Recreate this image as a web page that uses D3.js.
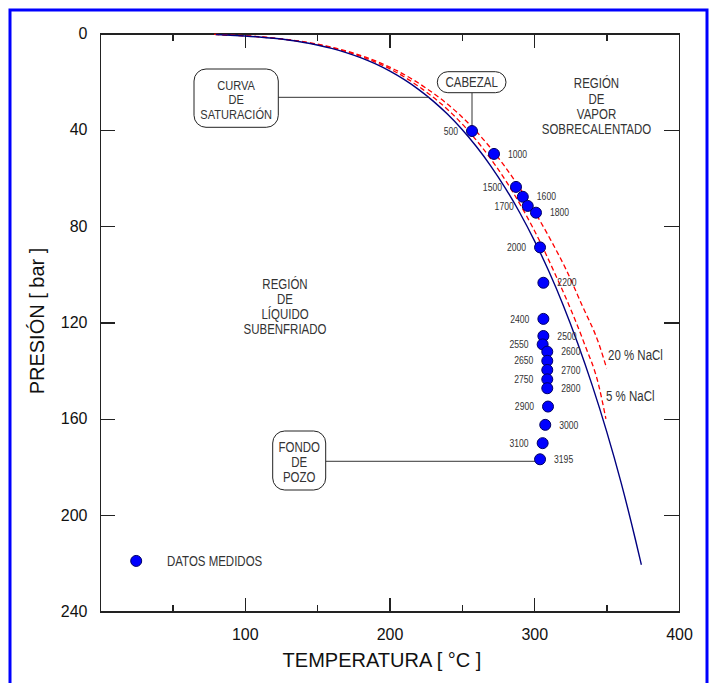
<!DOCTYPE html>
<html>
<head>
<meta charset="utf-8">
<script src="https://cdn.jsdelivr.net/npm/d3@7"></script>
<style>
  body { margin: 0; background: #fff; }
  svg { display: block; }
  .axis path, .axis line { stroke: #222; stroke-width: 1.4; shape-rendering: crispEdges; }
  .axis text { font-family: "Liberation Sans", Arial, sans-serif; font-size: 16px; fill: #111; }
  .note { font-family: "Liberation Sans", Arial, sans-serif; fill: #333; }
  .title { font-family: "Liberation Sans", Arial, sans-serif; font-size: 20px; fill: #111; }
</style>
</head>
<body>
<svg width="713" height="683"></svg>
<script>
// curva de saturacion del agua pura [°C, bar]
const satTemp = [80, 90, 100, 110, 120, 130, 140, 150, 160, 170, 180, 190, 200, 210, 220, 230, 240, 250, 260, 270, 280, 290, 300, 310, 320, 330, 340, 350, 360, 370, 374];
const satPres = [0.47, 0.70, 1.01, 1.43, 1.99, 2.70, 3.61, 4.76, 6.18, 7.92, 10.03, 12.55, 15.55, 19.08, 23.2, 27.97, 33.47, 39.76, 46.92, 55.03, 64.17, 74.42, 85.88, 98.65, 112.8, 128.6, 146.0, 165.2, 186.5, 210.4, 220.6];

// salmuera 5 % NaCl
const nacl5Temp = [79, 90.5, 101, 121, 141.5, 162, 182.5, 203, 223, 243.5, 263.5, 283.5, 303.5, 313.5, 324, 334.5, 344.5, 349.5];
const nacl5Pres = [0.4, 0.70, 1.01, 1.99, 3.61, 6.18, 10.03, 15.55, 23.2, 33.47, 46.92, 64.17, 85.88, 98.65, 112.8, 128.6, 146.0, 160];

// salmuera 20 % NaCl
const nacl20Temp = [79, 91, 102, 121.5, 142.5, 163.5, 184.5, 205.5, 226.5, 248, 269, 290, 311.5, 322.5, 333, 344.5, 350];
const nacl20Pres = [0.4, 0.70, 1.01, 1.99, 3.61, 6.18, 10.03, 15.55, 23.2, 33.47, 46.92, 64.17, 85.88, 98.65, 112.8, 128.6, 139];

// datos medidos en el pozo (profundidad en m)
const wellDepth = [500, 1000, 1500, 1600, 1700, 1800, 2000, 2200, 2400, 2500, 2550, 2600, 2650, 2700, 2750, 2800, 2900, 3000, 3100, 3195];
const wellTemp = [257.0, 272.2, 287.4, 292.1, 295.5, 301.2, 304.0, 306.3, 306.3, 306.3, 305.8, 309.0, 309.0, 309.0, 309.0, 309.0, 309.5, 307.6, 305.8, 304.0];
const wellPres = [40.5, 50.0, 63.7, 67.8, 71.6, 74.4, 88.8, 103.5, 118.5, 125.6, 129.1, 132.1, 135.9, 139.7, 143.6, 147.3, 154.9, 162.5, 170.1, 176.8];

const xMajor = [0, 100, 200, 300, 400];
const xMinor = [50, 150, 250, 350];
const xLabels = [100, 200, 300, 400];
const yTicks = [0, 40, 80, 120, 160, 200, 240];

const svg = d3.select('svg');
const NARROW = 0.82; // no hay Arial Narrow: se comprime Liberation Sans

const x = d3.scaleLinear().domain([0, 400]).range([100, 679]);
const y = d3.scaleLinear().domain([0, 240]).range([33.5, 611.5]);

// marco azul
svg.append('rect')
    .attr('x', 10).attr('y', 10)
    .attr('width', 697).attr('height', 700)
    .attr('fill', 'none')
    .attr('stroke', '#0000ff')
    .attr('stroke-width', 3);

// ejes: marcas hacia adentro
function tickAxis(axis, transform, values, size, keepDomain) {
  const g = svg.append('g')
      .attr('class', 'axis')
      .attr('transform', transform)
      .call(axis.tickValues(values).tickSize(size).tickSizeOuter(0).tickFormat(''));
  if (!keepDomain) g.select('.domain').remove();
  return g;
}
tickAxis(d3.axisTop(x), `translate(0,${y(240)})`, xMajor, 14, true);
tickAxis(d3.axisTop(x), `translate(0,${y(240)})`, xMinor, 7, false);
tickAxis(d3.axisBottom(x), `translate(0,${y(0)})`, xMajor, 14, true);
tickAxis(d3.axisBottom(x), `translate(0,${y(0)})`, xMinor, 7, false);
tickAxis(d3.axisRight(y), `translate(${x(0)},0)`, yTicks, 15, true);
tickAxis(d3.axisLeft(y), `translate(${x(400)},0)`, yTicks, 15, true);

// etiquetas de los ejes
svg.append('g')
    .attr('class', 'axis')
    .attr('transform', `translate(0,${y(240)})`)
    .call(d3.axisBottom(x).tickValues(xLabels).tickSize(0).tickPadding(17.5))
    .select('.domain').remove();

svg.append('g')
    .attr('class', 'axis')
    .attr('transform', `translate(${x(0)},0)`)
    .call(d3.axisLeft(y).tickValues(yTicks).tickSize(0).tickPadding(12.5))
    .select('.domain').remove();

svg.append('text')
    .attr('class', 'title')
    .attr('x', 382).attr('y', 667)
    .attr('text-anchor', 'middle')
    .text('TEMPERATURA [ °C ]');

svg.append('text')
    .attr('class', 'title')
    .attr('transform', 'translate(44,321) rotate(-90)')
    .attr('text-anchor', 'middle')
    .text('PRESIÓN [ bar ]');

// curvas
const line = d3.line()
    .x(d => x(d[0]))
    .y(d => y(d[1]))
    .curve(d3.curveMonotoneX);

svg.append('path')
    .datum(d3.zip(nacl20Temp, nacl20Pres))
    .attr('d', line)
    .attr('fill', 'none')
    .attr('stroke', '#ff0000')
    .attr('stroke-width', 1.3)
    .attr('stroke-dasharray', '5,3');

svg.append('path')
    .datum(d3.zip(nacl5Temp, nacl5Pres))
    .attr('d', line)
    .attr('fill', 'none')
    .attr('stroke', '#ff0000')
    .attr('stroke-width', 1.3)
    .attr('stroke-dasharray', '5,3');

svg.append('path')
    .datum(d3.zip(satTemp, satPres))
    .attr('d', line)
    .attr('fill', 'none')
    .attr('stroke', '#000080')
    .attr('stroke-width', 1.4);

// texto angosto, en varias lineas
function block(lines, px, y0, dy, size, anchor) {
  const t = svg.append('g')
      .attr('transform', `translate(${px},0) scale(${NARROW},1)`)
    .append('text')
      .attr('class', 'note')
      .attr('text-anchor', anchor || 'middle')
      .style('font-size', size + 'px');
  lines.forEach((s, i) => {
    t.append('tspan').attr('x', 0).attr('y', y0 + i * dy).text(s);
  });
}

block(['20 % NaCl'], 608, 360, 0, 14, 'start');
block(['5 % NaCl'], 606, 401, 0, 14, 'start');

// textos de regiones
block(['REGIÓN', 'DE', 'VAPOR', 'SOBRECALENTADO'], 596.5, 88.5, 15.2, 14);
block(['REGIÓN', 'DE', 'LÍQUIDO', 'SUBENFRIADO'], 285, 288.8, 15, 14);

// recuadros con lineas guia
const wells = wellDepth.map((d, i) => ({ depth: d, t: wellTemp[i], p: wellPres[i] }));
const wellHead = wells[0], wellBottom = wells[wells.length - 1];

svg.append('line')
    .attr('x1', 278).attr('y1', y(26.5))
    .attr('x2', x(227.2)).attr('y2', y(26.5))
    .attr('stroke', '#333');
svg.append('line')
    .attr('x1', x(wellHead.t)).attr('y1', 92.7)
    .attr('x2', x(wellHead.t)).attr('y2', y(wellHead.p))
    .attr('stroke', '#333');
svg.append('line')
    .attr('x1', 325.7).attr('y1', y(wellBottom.p) + 2)
    .attr('x2', x(wellBottom.t)).attr('y2', y(wellBottom.p) + 2)
    .attr('stroke', '#333');

function callout(lines, bx, by, bw, bh, r, y0, dy, size) {
  svg.append('rect')
      .attr('x', bx).attr('y', by)
      .attr('width', bw).attr('height', bh)
      .attr('rx', r).attr('ry', r)
      .attr('fill', '#fff')
      .attr('stroke', '#222');
  block(lines, bx + bw / 2, y0, dy, size);
}
callout(['CURVA', 'DE', 'SATURACIÓN'], 194, 69, 84.3, 58.3, 12, 89.8, 14.6, 13.5);
callout(['CABEZAL'], 437.3, 71.7, 68.7, 21, 10.5, 86.8, 0, 14);
callout(['FONDO', 'DE', 'POZO'], 272.7, 431, 53, 59, 12, 452.5, 15, 14);

// puntos medidos
const leftSide = new Set([500, 1500, 1700, 2000, 2400, 2550, 2650, 2750, 2900, 3100]);

svg.append('g')
  .selectAll('circle')
  .data(wells)
  .enter().append('circle')
    .attr('cx', d => x(d.t))
    .attr('cy', d => y(d.p))
    .attr('r', 5.5)
    .attr('fill', '#0000ff')
    .attr('stroke', '#000066')
    .attr('stroke-width', 1);

svg.append('g')
  .selectAll('g')
  .data(wells)
  .enter().append('g')
    .attr('transform', d => {
      const px = leftSide.has(d.depth) ? x(d.t) - 14 : x(d.t) + 14;
      return `translate(${px},${y(d.p)}) scale(${NARROW},1)`;
    })
  .append('text')
    .attr('class', 'note')
    .style('font-size', '10.5px')
    .attr('dy', '0.35em')
    .attr('text-anchor', d => leftSide.has(d.depth) ? 'end' : 'start')
    .text(d => d.depth);

// leyenda
svg.append('circle')
    .attr('cx', x(25)).attr('cy', y(219))
    .attr('r', 5.5)
    .attr('fill', '#0000ff')
    .attr('stroke', '#000066');
block(['DATOS MEDIDOS'], 167, y(219) + 5, 0, 14, 'start');
</script>
</body>
</html>
